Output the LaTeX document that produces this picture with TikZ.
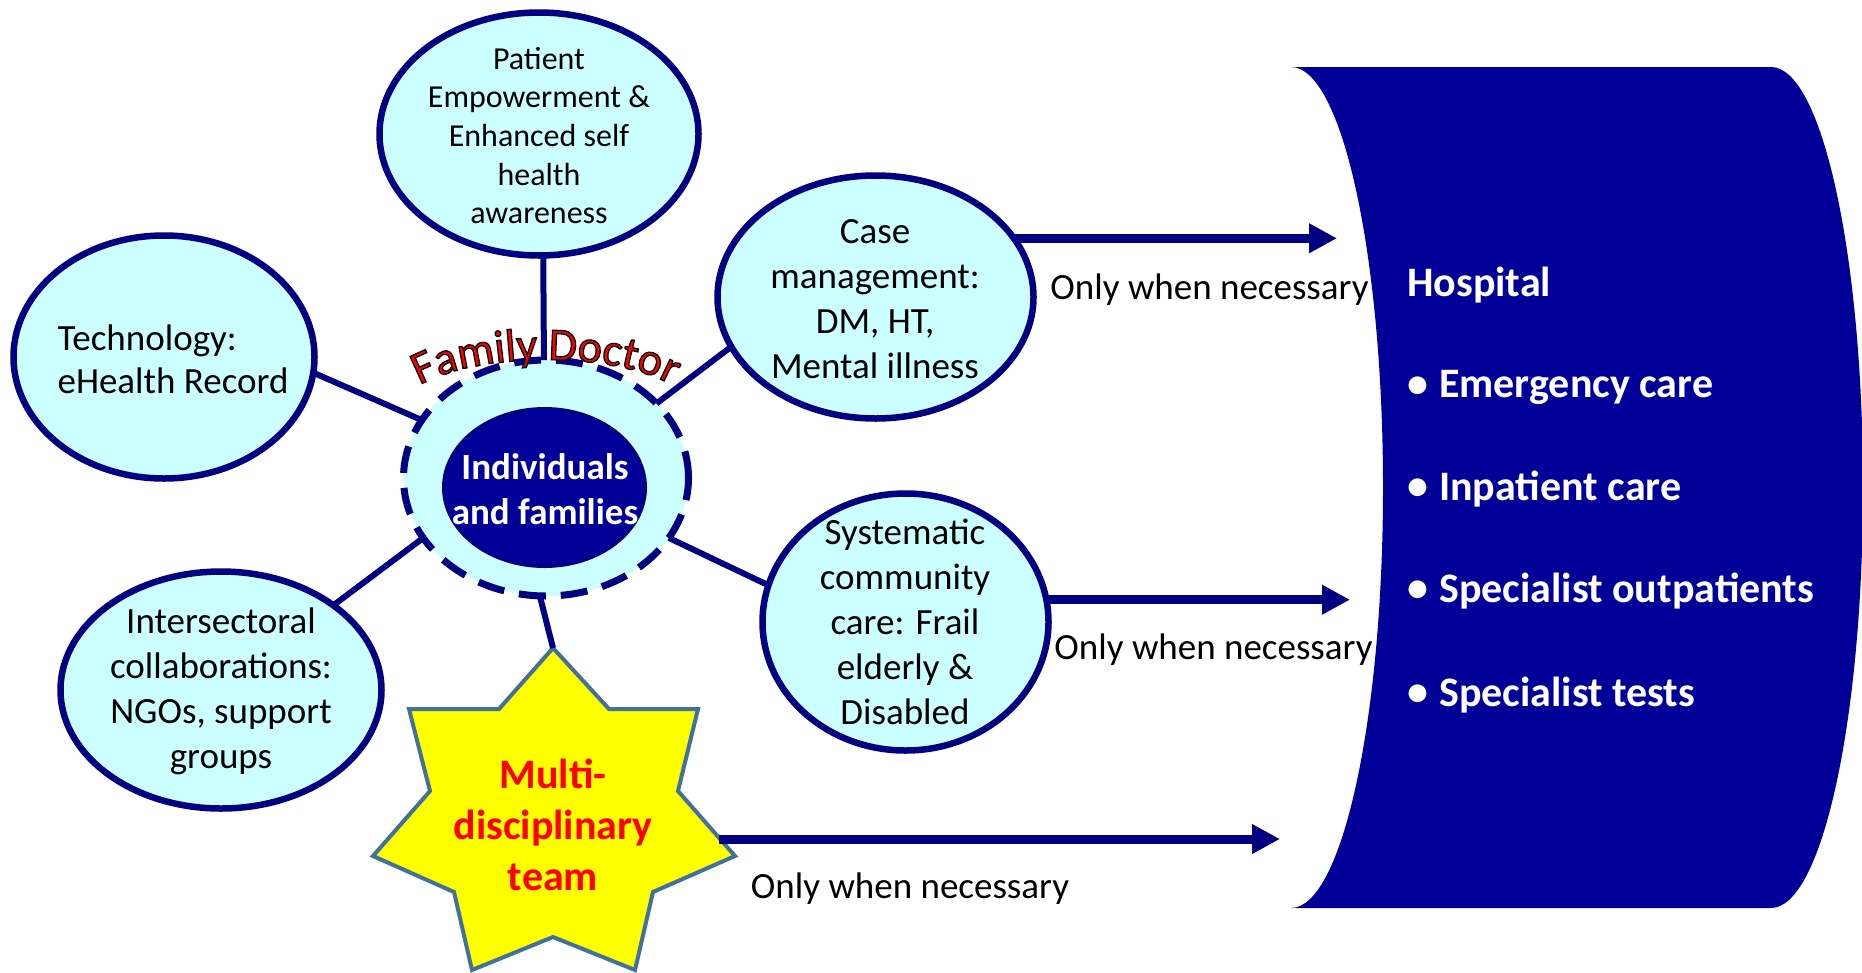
\documentclass[tikz,border=0pt]{standalone}
\usepackage{fontspec}
\setmainfont{Carlito}
\usetikzlibrary{shapes.geometric,arrows.meta,decorations.text}
\definecolor{navy}{HTML}{000080}
\definecolor{hospblue}{HTML}{000099}
\definecolor{lightcyan}{HTML}{CCFFFF}
\definecolor{starline}{HTML}{41719C}
\definecolor{staryellow}{HTML}{FFFF00}
\begin{document}
\begin{tikzpicture}[x=1pt,y=-1pt,
  bubble/.style={ellipse, draw=navy, line width=6.5pt, fill=lightcyan, inner sep=0pt, outer sep=0pt},
  btext/.style={inner sep=0pt, align=center, font=\fontsize{37}{45}\selectfont},
  conn/.style={draw=navy, line width=6pt},
  harrow/.style={draw=navy, line width=9pt, -{Triangle[length=28pt,width=28pt]}},
  note/.style={inner sep=0pt, font=\fontsize{37}{45}\selectfont},
  hosp/.style={inner sep=0pt, anchor=west, text=white, font=\fontsize{42}{50}\selectfont\bfseries},
  bul/.style={inner sep=0pt, text=white, font=\fontsize{42}{50}\selectfont\bfseries},
  fdpath/.style={decorate, decoration={text along path, text align=center, text color=red,
      text={|\fontsize{46}{46}\selectfont\color{red}\special{pdf:literal direct 2 Tr 0 0 0 RG 1.3 w}|Family Doctor}}},
]
\useasboundingbox (0,0) rectangle (1862,972);
\clip (0,0) rectangle (1862,972);

% hospital
\path[fill=hospblue] (1291,67) -- (1771,67)
  arc[start angle=90,end angle=-90,x radius=92pt,y radius=420.5pt]
  -- (1291,908)
  arc[start angle=-90,end angle=90,x radius=92pt,y radius=420.5pt] -- cycle;
\node[hosp] (h0) at (1407,285) {Hospital};
\node[bul] (b1) at (1418,387) {•};
\node[hosp] (h1) at (1439,387) {Emergency care};
\node[bul] (b2) at (1418,489) {•};
\node[hosp] (h2) at (1439,489) {Inpatient care};
\node[bul] (b3) at (1418,591) {•};
\node[hosp] (h3) at (1439,591) {Specialist outpatients};
\node[bul] (b4) at (1418,695) {•};
\node[hosp] (h4) at (1439,695) {Specialist tests};

% bubbles
\node[bubble, minimum width=319pt, minimum height=243pt] (pat) at (539,134) {};
\node[bubble, minimum width=301pt, minimum height=243pt] (tech) at (164,357) {};
\node[bubble, minimum width=316pt, minimum height=243pt] (case) at (875.5,297) {};
\node[bubble, minimum width=286pt, minimum height=257pt] (sys) at (905.5,622) {};
\node[bubble, minimum width=321pt, minimum height=237pt] (inter) at (221,690) {};

% centre
\node[ellipse, draw=navy, fill=lightcyan, line width=7pt, dash pattern=on 27pt off 15pt,
      minimum width=285pt, minimum height=236pt, inner sep=0pt, outer sep=0pt] (fd) at (546,478) {};
\node[ellipse, draw=navy, fill=hospblue, line width=3pt, minimum width=202pt, minimum height=158pt,
      inner sep=0pt, outer sep=0pt] (ind) at (544.5,487.5) {};
\node[btext, text=white, font=\fontsize{37}{45}\selectfont\bfseries] (indt) at (545,489.5) {Individuals\\and families};

% star
\draw[starline, fill=staryellow, line width=4pt, line join=miter]
  (553,648) -- (609,709) -- (698,709) -- (678,791) -- (735,856) -- (653,892) -- (635,970)
  -- (553,937) -- (472,970) -- (454,892) -- (373,856) -- (430,791) -- (409,709) -- (499,709) -- cycle;
\coordinate (startop) at (553,648);
\coordinate (starR) at (719,839);
\node[inner sep=0pt, align=center, text=red, font=\fontsize{42}{51}\selectfont\bfseries] (mdt) at (553,825) {Multi-\\disciplinary\\team};

% connectors
\draw[conn] (tech.-6) -- (fd.155);
\draw[conn] (pat.-88) -- (fd.91);
\draw[conn] (case.-161) -- (fd.34);
\draw[conn] (sys.165) -- (fd.-26);
\draw[conn] (inter.37) -- (fd.-154);
\draw[conn] (fd.-93) -- (startop);

% arrows
\coordinate (tip1) at (1337,237);
\coordinate (tip2) at (1350,599);
\coordinate (tip3) at (1280,839);
\draw[harrow] (case.23) -- (tip1 |- case.23);
\draw[harrow] (sys.9) -- (tip2 |- sys.9);
\draw[harrow] (starR) -- (tip3 |- starR);
\node[note] (n1) at (1209.5,290) {Only when necessary};
\node[note] (n2) at (1213.5,650) {Only when necessary};
\node[note] (n3) at (910,889) {Only when necessary};

% bubble texts
\node[btext, font=\fontsize{32}{38.7}\selectfont] (patt) at (539,135.5) {Patient\\Empowerment \&\\Enhanced self\\health\\awareness};
\node[btext, align=left, font=\fontsize{37}{43}\selectfont] (techt) at (173,359) {Technology:\\eHealth Record};
\node[btext] (caset) at (875,299) {Case\\management:\\DM, HT,\\Mental illness};
\node[btext] (syst) at (905,622) {Systematic\\community\\care: Frail\\elderly \&\\Disabled};
\node[btext] (intert) at (221,691) {Intersectoral\\collaborations:\\NGOs, support\\groups};

% Family Doctor arched title (outlined red text)
\path[fdpath] (405,396) arc[start angle=160,end angle=20,x radius=150pt,y radius=55pt];
\end{tikzpicture}
\end{document}
